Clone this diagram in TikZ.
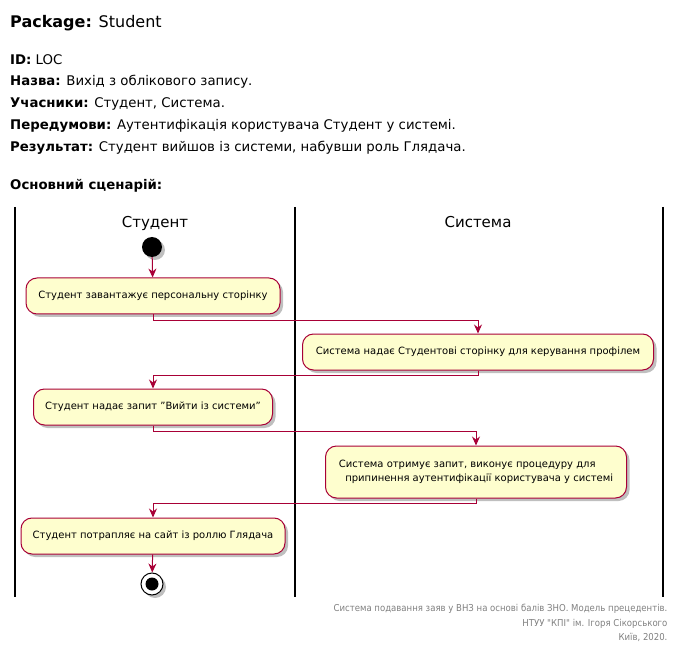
\documentclass[tikz,border=0pt]{standalone}
\usepackage{fontspec}
\setmainfont{DejaVu Sans}
\newfontfamily\condfont{DejaVu Sans Condensed}
\usetikzlibrary{shadows,arrows.meta}
\definecolor{actfill}{HTML}{FEFECE}
\definecolor{actline}{HTML}{A80036}

\begin{document}
\begin{tikzpicture}[x=1pt, y=-1pt,
  act/.style={draw=actline, fill=actfill, rounded corners=11pt, line width=1pt,
    minimum height=36pt, font=\fontsize{10}{14}\selectfont,
    drop shadow={shadow xshift=3pt, shadow yshift=-3pt, fill=black, opacity=0.25}},
  flow/.style={draw=actline, line width=1pt, -{Stealth[length=9pt,width=8pt,inset=3pt]}},
  lane/.style={line width=1.5pt},
  head/.style={anchor=base west, inner sep=0pt, font=\fontsize{13.3}{16}\selectfont}]
  \useasboundingbox (0,0) rectangle (680,652);

  % header
  \node[head, font=\fontsize{16}{19}\selectfont] (pkg) at (10,28) {\textbf{Package:} Student};
  \node[head] (id) at (10,65) {\textbf{ID:} LOC};
  \node[head] (name) at (10,86) {\textbf{Назва:} Вихід з облікового запису.};
  \node[head] (actors) at (10,108) {\textbf{Учасники:} Студент, Система.};
  \node[head] (pre) at (10,130) {\textbf{Передумови:} Аутентифікація користувача Студент у системі.};
  \node[head] (res) at (10,152) {\textbf{Результат:} Студент вийшов із системи, набувши роль Глядача.};
  \node[head] (main) at (10,190) {\textbf{Основний сценарій:}};

  % swimlanes
  \draw[lane] (15,207) -- (15,597);
  \draw[lane] (295,207) -- (295,597);
  \draw[lane] (663,207) -- (663,597);
  \node[font=\fontsize{15}{18}\selectfont, anchor=base] (laneS) at (155,228) {Студент};
  \node[font=\fontsize{15}{18}\selectfont, anchor=base] (laneU) at (478,228) {Система};

  % activities
  \node[circle, fill=black, minimum size=20pt, inner sep=0pt,
    drop shadow={shadow xshift=3pt, shadow yshift=-3pt, fill=black, opacity=0.25}] (start) at (152,247) {};
  \node[act, minimum width=254pt] (load) at (153,296) {Студент завантажує персональну сторінку};
  \node[act, minimum width=351pt] (page) at (478,352) {Система надає Студентові сторінку для керування профілем};
  \node[act, minimum width=239pt] (ask) at (153,407) {Студент надає запит \symbol{34}Вийти із системи\symbol{34}};
  \node[act, minimum width=301pt, minimum height=52pt, align=left] (logout) at (476,472)
    {Система отримує запит, виконує процедуру для\\\ \ припинення аутентифікації користувача у системі};
  \node[act, minimum width=264pt] (guest) at (153,536) {Студент потрапляє на сайт із роллю Глядача};
  \node[circle, draw=black, line width=1pt, fill=white, minimum size=22pt, inner sep=0pt,
    drop shadow={shadow xshift=3pt, shadow yshift=-3pt, fill=black, opacity=0.25}] (stop) at (152,584) {};
  \fill (stop.center) circle (6.5pt);

  % connectors
  \draw[flow] (start) -- (load);
  \draw[flow] (load.south) -- ++(0,6) -| (page.north);
  \draw[flow] (page.south) -- ++(0,5) -| (ask.north);
  \draw[flow] (ask.south) -- ++(0,6) -| (logout.north);
  \draw[flow] (logout.south) -- ++(0,5) -| (guest.north);
  \draw[flow] (guest) -- (stop);

  % footer
  \node[anchor=east, align=right, text=gray, font=\condfont\fontsize{9.5}{14.5}\selectfont] (foot) at (671,623)
    {Система подавання заяв у ВНЗ на основі балів ЗНО. Модель прецедентів.\\
     НТУУ \symbol{34}КПІ\symbol{34} ім. Ігоря Сікорського\\
     Київ, 2020.};
\end{tikzpicture}
\end{document}
